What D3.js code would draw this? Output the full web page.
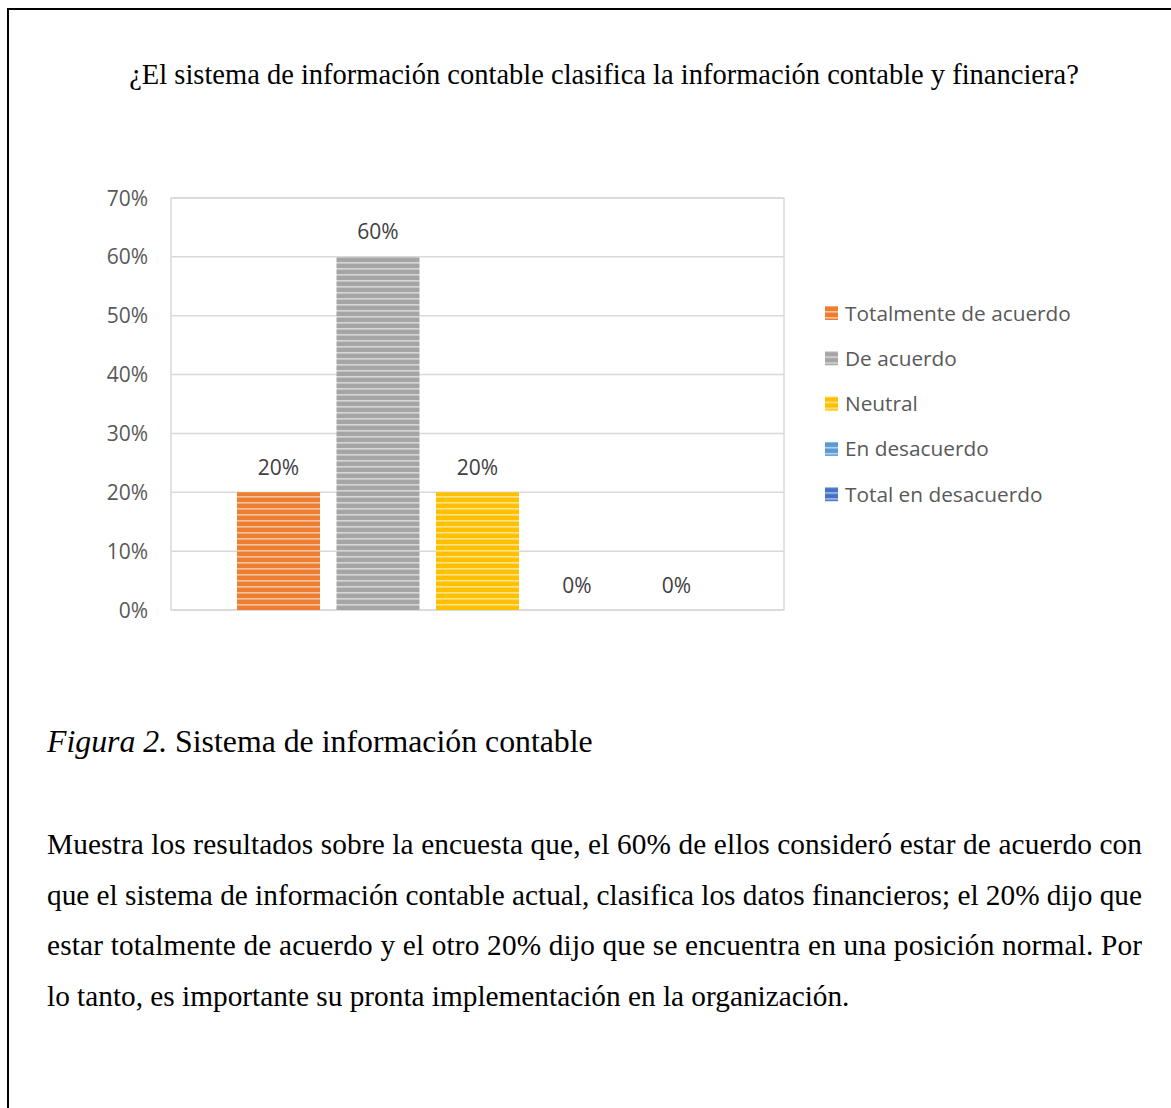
<!DOCTYPE html>
<html><head><meta charset="utf-8">
<script src="https://cdn.jsdelivr.net/npm/d3@7"></script>
<style>
body{margin:0;background:#fff;}
svg{display:block;}
</style></head>
<body>
<svg id="c" width="1171" height="1108"></svg>
<script>
const title = "¿El sistema de información contable clasifica la información contable y financiera?";
const categories = ["Totalmente de acuerdo","De acuerdo","Neutral","En desacuerdo","Total en desacuerdo"];
const values = [0.20, 0.60, 0.20, 0.00, 0.00];
const colors = ["#ED7D31","#A5A5A5","#FFC000","#5B9BD5","#4472C4"];
const yTicks = [0,0.1,0.2,0.3,0.4,0.5,0.6,0.7];
const captionItalic = "Figura 2.";
const captionText = " Sistema de información contable";
const paragraph = [
 "Muestra los resultados sobre la encuesta que, el 60% de ellos consideró estar de acuerdo con",
 "que el sistema de información contable actual, clasifica los datos financieros; el 20% dijo que",
 "estar totalmente de acuerdo y el otro 20% dijo que se encuentra en una posición normal. Por",
 "lo tanto, es importante su pronta implementación en la organización."
];

const svg = d3.select("#c");
svg.append("rect").attr("x",8).attr("y",9).attr("width",1180).attr("height",1120)
  .attr("fill","none").attr("stroke","#000").attr("stroke-width",2);

const serif = "Liberation Serif, Times New Roman, serif";
svg.append("text").attr("x",604).attr("y",84).attr("text-anchor","middle")
  .attr("font-family",serif).attr("font-size",28.5)
  .attr("fill","#000").text(title);

const defs = svg.append("defs");
colors.forEach((c,i)=>{
  const p = defs.append("pattern").attr("id","p"+i).attr("patternUnits","userSpaceOnUse")
    .attr("width",8).attr("height",6);
  p.append("rect").attr("width",8).attr("height",6).attr("fill",c);
  p.append("rect").attr("y",4).attr("width",8).attr("height",1.6).attr("fill","#fff").attr("opacity",0.55);
});

const L=171, R=784, T=198, B=610;
const y = d3.scaleLinear().domain([0,0.7]).range([B,T]);
const x = d3.scaleBand().domain(categories).range([L,R]).paddingInner(0.166).paddingOuter(0.663);

const font = "Open Sans, Liberation Sans, sans-serif";
svg.append("g").selectAll("line").data(yTicks).join("line")
  .attr("x1",L).attr("x2",R).attr("y1",d=>y(d)).attr("y2",d=>y(d))
  .attr("stroke","#D9D9D9").attr("stroke-width",1.5);
svg.append("rect").attr("x",L).attr("y",T).attr("width",R-L).attr("height",B-T)
  .attr("fill","none").attr("stroke","#D9D9D9").attr("stroke-width",1.5);

svg.append("g").selectAll("text").data(yTicks).join("text")
  .attr("x",148).attr("y",d=>y(d)).attr("dy","0.36em").attr("text-anchor","end")
  .attr("font-family",font).attr("font-size",21).attr("fill","#595959")
  .text(d=>d3.format(".0%")(d));

svg.append("g").selectAll("rect").data(values).join("rect")
  .attr("x",(d,i)=>x(categories[i])).attr("width",x.bandwidth())
  .attr("y",d=>y(d)).attr("height",d=>B-y(d))
  .attr("fill",(d,i)=>"url(#p"+i+")");

svg.append("g").selectAll("text").data(values).join("text")
  .attr("x",(d,i)=>x(categories[i])+x.bandwidth()/2).attr("y",d=>y(d)-25)
  .attr("dy","0.36em").attr("text-anchor","middle")
  .attr("font-family",font).attr("font-size",21).attr("fill","#404040")
  .text(d=>d3.format(".0%")(d));

const lg = svg.append("g").selectAll("g").data(categories).join("g")
  .attr("transform",(d,i)=>`translate(825,${313+i*45.3})`);
lg.append("rect").attr("x",0).attr("y",-7).attr("width",13).attr("height",14)
  .attr("fill",(d,i)=>"url(#p"+i+")");
lg.append("text").attr("x",20).attr("y",0).attr("dy","0.36em")
  .attr("font-family",font).attr("font-size",20.8).attr("fill","#595959").text(d=>d);

const cap = svg.append("text").attr("x",47).attr("y",752)
  .attr("font-family",serif).attr("font-size",31.8).attr("fill","#000");
cap.append("tspan").attr("font-style","italic").text(captionItalic);
cap.append("tspan").text(captionText);

svg.append("g").selectAll("text").data(paragraph).join("text")
  .attr("x",47).attr("y",(d,i)=>854+i*50.7)
  .attr("font-family",serif).attr("font-size",29.3).attr("fill","#000")
  .each(function(d,i){ if(i<paragraph.length-1){ d3.select(this).attr("textLength",1095).attr("lengthAdjust","spacing"); } })
  .text(d=>d);
</script>
</body></html>
